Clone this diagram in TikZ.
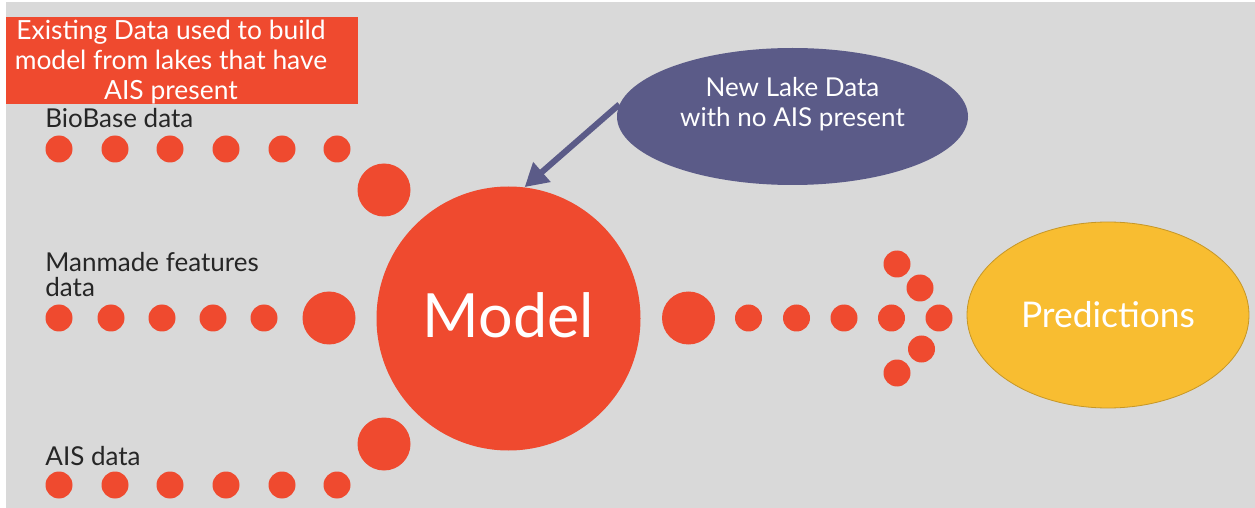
\documentclass[tikz,border=0pt]{standalone}
\usepackage{fontspec}
\setmainfont{Lato}
\usepackage{xcolor}
\usetikzlibrary{arrows.meta,shapes.geometric}

\definecolor{aisred}{HTML}{EF4A2F}
\definecolor{lakeblue}{HTML}{5B5B88}
\definecolor{predyellow}{HTML}{F8BD31}
\definecolor{slidegray}{HTML}{D9D9D9}

\begin{document}
\begin{tikzpicture}[x=0.5pt, y=-0.5pt,
    dot/.style={circle, fill=aisred, inner sep=0pt, minimum size=13.5pt},
    bigdot/.style={circle, fill=aisred, inner sep=0pt, minimum size=26.5pt},
    label/.style={anchor=base west, inner sep=0pt, text=black!85, font=\fontsize{13pt}{13pt}\selectfont},
    whitetext/.style={text=white, align=center},
    feed/.style={draw=lakeblue, line width=3pt, -{Triangle[length=11.5pt,width=12.5pt]}}]

    % background
    \useasboundingbox (0,0) rectangle (1255,508);
    \fill[slidegray] (6,2) rectangle (1255,508);

    % Nodes
    \node[rectangle, fill=aisred, inner sep=0pt, minimum width=176pt, minimum height=43.5pt] (existbox) at (182,61) {};
    \node[whitetext, font=\fontsize{13.2pt}{15pt}\selectfont] (existtext) at (171,62) {Existing Data used to build\\model from lakes that have\\AIS present};

    \node[label] (biolbl) at (45,128) {BioBase data};
    \node[label, align=left] (manlbl) at (45,297) {Manmade features\\data};
    \node[label] (aislbl) at (45,465) {AIS data};

    \node[dot] (b1) at (59,149) {};
    \node[dot] (b2) at (115,149) {};
    \node[dot] (b3) at (170,149) {};
    \node[dot] (b4) at (226,149) {};
    \node[dot] (b5) at (282,149) {};
    \node[dot] (b6) at (337,149) {};
    \node[bigdot] (b7) at (384,190) {};

    \node[dot] (m1) at (59,318) {};
    \node[dot] (m2) at (111,318) {};
    \node[dot] (m3) at (162,318) {};
    \node[dot] (m4) at (213,318) {};
    \node[dot] (m5) at (264,318) {};
    \node[bigdot] (m6) at (329,318) {};

    \node[dot] (a1) at (59,485) {};
    \node[dot] (a2) at (115,485) {};
    \node[dot] (a3) at (170,485) {};
    \node[dot] (a4) at (226,485) {};
    \node[dot] (a5) at (282,485) {};
    \node[dot] (a6) at (337,485) {};
    \node[bigdot] (a7) at (384,444) {};

    \node[circle, fill=aisred, inner sep=0pt, minimum size=132pt] (model) at (508.5,318.5) {};
    \node[whitetext, font=\fontsize{30.5pt}{36pt}\selectfont] (modeltext) at (508.5,315) {Model};

    \node[bigdot] (p1) at (688.5,318) {};
    \node[dot] (p2) at (748.5,318) {};
    \node[dot] (p3) at (796.5,318) {};
    \node[dot] (p4) at (844,318) {};
    \node[dot] (p5) at (891.5,318) {};
    \node[dot] (p6) at (897,264) {};
    \node[dot] (p7) at (920,288) {};
    \node[dot] (p8) at (939,318) {};
    \node[dot] (p9) at (921.5,349) {};
    \node[dot] (p10) at (897,373) {};

    \node[ellipse, fill=lakeblue, inner sep=0pt, minimum width=175.5pt, minimum height=68.5pt] (newlake) at (792.5,116.5) {};
    \node[whitetext, font=\fontsize{13pt}{15pt}\selectfont] (newtext) at (792.5,104) {New Lake Data\\with no AIS present};

    \node[ellipse, fill=predyellow, draw=predyellow!80!black, thin, inner sep=0pt, minimum width=141pt, minimum height=93pt, whitetext, font=\fontsize{17.7pt}{21pt}\selectfont] (pred) at (1108,315) {Predictions};

    % new data into the model
    \draw[feed] (newlake.176) -- (model.83);

\end{tikzpicture}
\end{document}
